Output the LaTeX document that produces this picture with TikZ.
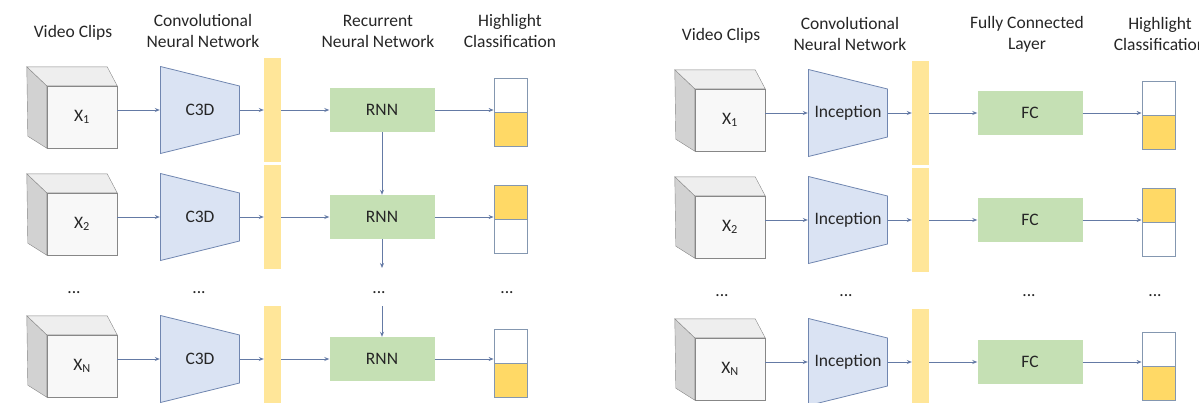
\documentclass[tikz,border=0pt]{standalone}
\usepackage{fontspec}
\setmainfont{Carlito}
\usetikzlibrary{arrows.meta,backgrounds}

\definecolor{cubeline}{RGB}{135,135,135}
\definecolor{cubefront}{RGB}{248,248,248}
\definecolor{cubeside}{RGB}{210,210,210}
\definecolor{cubetop}{RGB}{238,238,238}
\definecolor{cnnfill}{RGB}{218,227,243}
\definecolor{cnnline}{RGB}{112,134,176}
\definecolor{barfill}{RGB}{255,230,153}
\definecolor{layerfill}{RGB}{197,224,180}
\definecolor{outfill}{RGB}{255,217,102}
\definecolor{outline}{RGB}{132,151,176}
\definecolor{arrowcol}{RGB}{100,122,165}

\begin{document}
\begin{tikzpicture}[x=1pt, y=-1pt, >={Stealth[length=5pt,width=4pt]},
    every node/.style={font=\fontsize{17.5}{21}\selectfont, text=black!85},
    head/.style={align=center},
    vidbox/.style={rectangle, draw=cubeline, fill=cubefront, minimum width=70, minimum height=62, inner sep=0},
    cnnbox/.style={rectangle, minimum width=80, minimum height=88, inner sep=0,
        path picture={\filldraw[fill=cnnfill, draw=cnnline, line width=0.8pt]
            ([xshift=0.5pt,yshift=-0.5pt]path picture bounding box.north west)
            -- ([xshift=-0.5pt,yshift=24pt]path picture bounding box.east)
            -- ([xshift=-0.5pt,yshift=-24pt]path picture bounding box.east)
            -- ([xshift=0.5pt,yshift=0.5pt]path picture bounding box.south west) -- cycle;}},
    featbar/.style={rectangle, fill=barfill, minimum width=17, minimum height=104, inner sep=0},
    layerbox/.style={rectangle, fill=layerfill, minimum width=105, minimum height=44},
    outbox/.style={rectangle, draw=outline, line width=0.8pt, minimum width=33, minimum height=68, inner sep=0},
    outlow/.style={outbox, path picture={
        \fill[outfill] (path picture bounding box.west) rectangle (path picture bounding box.south east);
        \draw[outline, line width=0.8pt] (path picture bounding box.west) -- (path picture bounding box.east);}},
    outhigh/.style={outbox, path picture={
        \fill[outfill] (path picture bounding box.north west) rectangle (path picture bounding box.east);
        \draw[outline, line width=0.8pt] (path picture bounding box.west) -- (path picture bounding box.east);}},
    flow/.style={->, draw=arrowcol, line width=0.8pt}]
    \useasboundingbox (0,0) rectangle (1199,402);

    % left: C3D + RNN
    \node (tvida) at (73,33) {Video Clips};
    \node (tcnna) at (203,31) [head] {Convolutional\\Neural Network};
    \node (trnna) at (378,31) [head] {Recurrent\\Neural Network};
    \node (touta) at (510,31) [head] {Highlight\\Classification};

    \node (vida1) at (82,117) [vidbox] {X\textsubscript{1}};
    \node (cnna1) at (200,110) [cnnbox] {C3D};
    \node (bara1) at (272.5,110) [featbar] {};
    \node (rnna1) at (382,110) [layerbox] {RNN};
    \node (outa1) at (510.5,112) [outlow] {};

    \node (vida2) at (82,224) [vidbox] {X\textsubscript{2}};
    \node (cnna2) at (200,217) [cnnbox] {C3D};
    \node (bara2) at (272.5,217) [featbar] {};
    \node (rnna2) at (382,217) [layerbox] {RNN};
    \node (outa2) at (510.5,219) [outhigh] {};

    \node (dotva) at (74,293) {...};
    \node (dotca) at (199,293) {...};
    \node (dotra) at (379,293) {...};
    \node (dotoa) at (507,293) {...};

    \node (vidan) at (82,366) [vidbox] {X\textsubscript{N}};
    \node (cnnan) at (200,359) [cnnbox] {C3D};
    \node (baran) at (272.5,358) [featbar] {};
    \node (rnnan) at (382,359) [layerbox] {RNN};
    \node (outan) at (510.5,363) [outlow] {};

    \coordinate (dna) at (382,268);
    \coordinate (upa) at (382,306);

    \draw[flow] (vida1.east |- cnna1) -- (cnna1);
    \draw[flow] (cnna1) -- (bara1);
    \draw[flow] (bara1) -- (rnna1);
    \draw[flow] (rnna1.east) -- (rnna1.east -| outa1.west);
    \draw[flow] (vida2.east |- cnna2) -- (cnna2);
    \draw[flow] (cnna2) -- (bara2);
    \draw[flow] (bara2) -- (rnna2);
    \draw[flow] (rnna2.east) -- (rnna2.east -| outa2.west);
    \draw[flow] (vidan.east |- cnnan) -- (cnnan);
    \draw[flow] (cnnan) -- (cnnan -| baran.west);
    \draw[flow] (cnnan -| baran.east) -- (rnnan);
    \draw[flow] (rnnan.east) -- (rnnan.east -| outan.west);
    \draw[flow] (rnna1) -- (rnna2);
    \draw[flow] (rnna2) -- (dna);
    \draw[flow] (upa) -- (rnnan);

    % right: Inception + FC
    \begin{scope}[shift={(648,3)}]
    \node (tvidb) at (73,33) {Video Clips};
    \node (tcnnb) at (202,31) [head] {Convolutional\\Neural Network};
    \node (tfcb) at (379,31) [head] {Fully Connected\\Layer};
    \node (toutb) at (512,31) [head] {Highlight\\Classification};

    \node (vidb1) at (82,117) [vidbox] {X\textsubscript{1}};
    \node (cnnb1) at (200,110) [cnnbox] {Inception};
    \node (barb1) at (272.5,110) [featbar] {};
    \node (fcb1) at (382,110) [layerbox] {FC};
    \node (outb1) at (510.5,112) [outlow] {};

    \node (vidb2) at (82,224) [vidbox] {X\textsubscript{2}};
    \node (cnnb2) at (200,217) [cnnbox] {Inception};
    \node (barb2) at (272.5,217) [featbar] {};
    \node (fcb2) at (382,217) [layerbox] {FC};
    \node (outb2) at (510.5,219) [outhigh] {};

    \node (dotvb) at (74,293) {...};
    \node (dotcb) at (198,293) {...};
    \node (dotfb) at (381,293) {...};
    \node (dotob) at (507,293) {...};

    \node (vidbn) at (82,366) [vidbox] {X\textsubscript{N}};
    \node (cnnbn) at (200,359) [cnnbox] {Inception};
    \node (barbn) at (272.5,358) [featbar] {};
    \node (fcbn) at (382,359) [layerbox] {FC};
    \node (outbn) at (510.5,363) [outlow] {};
    \end{scope}

    \draw[flow] (vidb1.east |- cnnb1) -- (cnnb1);
    \draw[flow] (cnnb1) -- (barb1);
    \draw[flow] (barb1) -- (fcb1);
    \draw[flow] (fcb1.east) -- (fcb1.east -| outb1.west);
    \draw[flow] (vidb2.east |- cnnb2) -- (cnnb2);
    \draw[flow] (cnnb2) -- (barb2);
    \draw[flow] (barb2) -- (fcb2);
    \draw[flow] (fcb2.east) -- (fcb2.east -| outb2.west);
    \draw[flow] (vidbn.east |- cnnbn) -- (cnnbn);
    \draw[flow] (cnnbn) -- (cnnbn -| barbn.west);
    \draw[flow] (cnnbn -| barbn.east) -- (fcbn);
    \draw[flow] (fcbn.east) -- (fcbn.east -| outbn.west);

    % cube sides
    \begin{scope}[on background layer]
    \foreach \v in {vida1,vida2,vidan,vidb1,vidb2,vidbn} {
        \filldraw[fill=cubeside, draw=cubeline] (\v.north west) -- (\v.south west)
            -- ([xshift=-19pt,yshift=12pt]\v.south west) -- ([xshift=-20pt,yshift=19pt]\v.north west) -- cycle;
        \filldraw[fill=cubetop, draw=cubeline] (\v.north west) -- ([xshift=-20pt,yshift=19pt]\v.north west)
            -- ([xshift=-10pt,yshift=19pt]\v.north east) -- (\v.north east) -- cycle;
    }
    \end{scope}
\end{tikzpicture}
\end{document}
